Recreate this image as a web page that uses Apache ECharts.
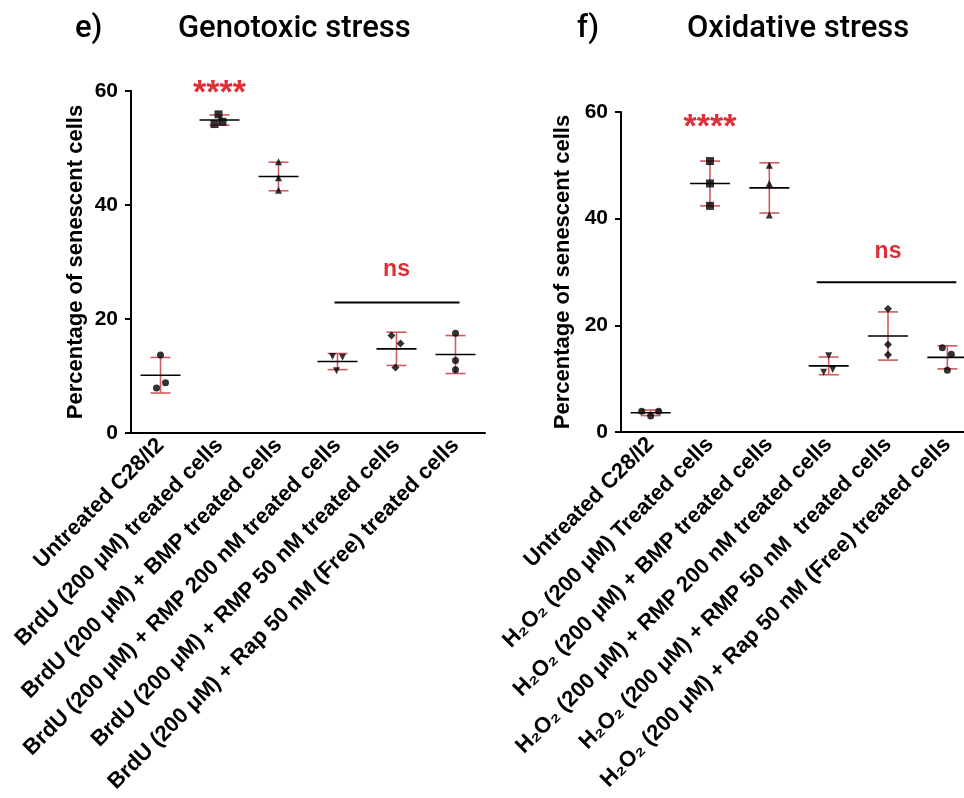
<!DOCTYPE html>
<html>
<head>
<meta charset="utf-8">
<script src="https://cdn.jsdelivr.net/npm/echarts@6/dist/echarts.min.js"></script>
<style>
html,body{margin:0;padding:0;background:#fff;overflow:hidden;width:964px;height:798px;}
#chart{width:1000px;height:798px;}
</style>
</head>
<body>
<div id="chart"></div>
<script>
// ---------- DATA ----------
const categoriesE = ['Untreated C28/I2','BrdU (200 μM) treated cells','BrdU (200 μM) + BMP treated cells','BrdU (200 μM) + RMP 200 nM treated cells','BrdU (200 μM) + RMP 50 nM treated cells','BrdU (200 μM) + Rap 50 nM (Free) treated cells'];
const categoriesF = ['Untreated C28/I2','H₂O₂ (200 μM) Treated cells','H₂O₂ (200 μM) + BMP treated cells','H₂O₂ (200 μM) + RMP 200 nM treated cells','H₂O₂ (200 μM) + RMP 50 nM  treated cells','H₂O₂ (200 μM) + Rap 50 nM (Free) treated cells'];

const valuesE = [
  [13.7, 7.9, 8.8],
  [55.9, 54.6, 54.2],
  [47.6, 44.8, 42.6],
  [13.4, 13.3, 10.9],
  [17.1, 15.7, 11.5],
  [17.5, 12.7, 11.1]
];
const valuesF = [
  [3.9, 3.0, 3.9],
  [50.8, 46.6, 42.4],
  [50.0, 46.6, 40.7],
  [14.3, 11.2, 11.7],
  [23.1, 16.4, 14.5],
  [15.8, 14.6, 11.6]
];
const yTicks = [0, 20, 40, 60];
const yName = 'Percentage of senescent cells';
const titlesE = ['e)', 'Genotoxic stress'];
const titlesF = ['f)', 'Oxidative stress'];
// significance annotations
const sigStarsE = [1, 59.5, '****'];          // [category index, value, text]
const sigStarsF = [1, 57.0, '****'];
const nsE = [3, 5, 22.9, 'ns', 28.7];         // [from, to, line value, text, text value]
const nsF = [3, 5, 28.1, 'ns', 33.8];

// ---------- STYLE ----------
const FONT = '"Liberation Sans", Arial, sans-serif';
const TFONT = 'Roboto, "Liberation Sans", Arial, sans-serif';
const RED_BAR = '#cf5a60';
const RED_TXT = '#dd2f37';
const symbols = ['circle','rect','triangle','triangle','diamond','circle'];
const rotations = [0,0,0,180,0,0];
const symSizes = [7,8,7,7,8,7];
const jitterE = [[0,-4,5],[-1,3,-5],[0,0,0],[-5,5,-1],[-5,4,-1],[0,0,0]];
const jitterF = [[-9,0,8],[0,0,0],[0,0,0],[0,-5,4],[0,0,0],[-5,4,0]];

function meanSd(arr){
  const m = arr.reduce((a,b)=>a+b,0)/arr.length;
  const v = arr.reduce((a,b)=>a+(b-m)*(b-m),0)/(arr.length-1);
  return [m, Math.sqrt(v)];
}

const chart = echarts.init(document.getElementById('chart'));

function axisPair(idx, cats, nameGap){
  return {
    x: {
      type:'category', gridIndex: idx, data: cats, boundaryGap: true,
      axisLine:{lineStyle:{color:'#000', width:2}},
      axisTick:{alignWithLabel:true, length:6, lineStyle:{color:'#000', width:2}},
      axisLabel:{interval:0, rotate:45, color:'#000', fontWeight:'bold', fontSize:22, fontFamily:FONT, margin:9}
    },
    y: {
      type:'value', gridIndex: idx, min:yTicks[0], max:yTicks[yTicks.length-1], interval:yTicks[1]-yTicks[0],
      name:yName, nameLocation:'middle', nameGap:nameGap,
      nameTextStyle:{color:'#000', fontWeight:'bold', fontSize:22, fontFamily:FONT},
      axisLine:{show:true, lineStyle:{color:'#000', width:2}},
      axisTick:{show:true, length:6, lineStyle:{color:'#000', width:2}},
      splitLine:{show:false},
      axisLabel:{color:'#000', fontWeight:'bold', fontSize:21, fontFamily:FONT, margin:13}
    }
  };
}
const aE = axisPair(0, categoriesE, 44), aF = axisPair(1, categoriesF, 47);

function scatterSeries(idx, vals, jit){
  const data = [];
  vals.forEach((g,i)=>g.forEach((v,j)=>{
    data.push({value:[i,v], symbol:symbols[i], symbolRotate:rotations[i], symbolSize:symSizes[i], symbolOffset:[jit[i][j],0]});
  }));
  return {type:'scatter', xAxisIndex:idx, yAxisIndex:idx, data, z:5, clip:false,
    itemStyle:{color:'#000'}, silent:true};
}

function errSeries(idx, vals){
  const data = vals.map((g,i)=>{const [m,s]=meanSd(g); return [i,m,s];});
  return {type:'custom', xAxisIndex:idx, yAxisIndex:idx, data, z:3, clip:false, silent:true,
    renderItem:(params, api)=>{
      const i = api.value(0), m = api.value(1), s = api.value(2);
      const c = api.coord([i,m]), t = api.coord([i,m+s]), b = api.coord([i,m-s]);
      const red = {stroke:RED_BAR, lineWidth:1.6};
      return {type:'group', children:[
        {type:'line', shape:{x1:c[0],y1:t[1],x2:c[0],y2:b[1]}, style:red},
        {type:'line', shape:{x1:c[0]-10,y1:t[1],x2:c[0]+10,y2:t[1]}, style:red},
        {type:'line', shape:{x1:c[0]-10,y1:b[1],x2:c[0]+10,y2:b[1]}, style:red},
        {type:'line', shape:{x1:c[0]-20,y1:c[1],x2:c[0]+20,y2:c[1]}, style:{stroke:'#000', lineWidth:1.6}}
      ]};
    }};
}

function annotSeries(idx, stars, ns, extL, extR){
  return {type:'custom', xAxisIndex:idx, yAxisIndex:idx, data:[[0]], clip:false, silent:true, z:4,
    renderItem:(params, api)=>{
      const sp = api.coord([stars[0], stars[1]]);
      const a = api.coord([ns[0], ns[2]]), b = api.coord([ns[1], ns[2]]);
      const tp = api.coord([(ns[0]+ns[1])/2, ns[4]]);
      return {type:'group', children:[
        {type:'text', x:sp[0], y:sp[1], style:{text:stars[2], fill:RED_TXT, font:'bold 34px '+FONT, textAlign:'center', textVerticalAlign:'middle'}},
        {type:'line', shape:{x1:a[0]-extL, y1:a[1], x2:b[0]+extR, y2:b[1]}, style:{stroke:'#000', lineWidth:2}},
        {type:'text', x:tp[0], y:tp[1], style:{text:ns[3], fill:RED_TXT, font:'bold 23px '+FONT, textAlign:'center', textVerticalAlign:'middle'}}
      ]};
    }};
}

const titleStyle = {color:'#000', fontWeight:500, fontSize:31, fontFamily:TFONT};
chart.setOption({
  animation:false,
  backgroundColor:'#fff',
  title:[
    {text:titlesE[0], left:75, top:14, padding:0, textStyle:titleStyle},
    {text:titlesE[1], left:178, top:14, padding:0, textStyle:titleStyle},
    {text:titlesF[0], left:577, top:14, padding:0, textStyle:titleStyle},
    {text:titlesF[1], left:687, top:14, padding:0, textStyle:titleStyle}
  ],
  grid:[
    {left:131, top:91, width:354, height:342},
    {left:621, top:112, width:356, height:320}
  ],
  xAxis:[aE.x, aF.x],
  yAxis:[aE.y, aF.y],
  series:[
    errSeries(0, valuesE), scatterSeries(0, valuesE, jitterE), annotSeries(0, sigStarsE, nsE, 3, 4),
    errSeries(1, valuesF), scatterSeries(1, valuesF, jitterF), annotSeries(1, sigStarsF, nsF, 12, 9)
  ]
});
</script>
</body>
</html>
